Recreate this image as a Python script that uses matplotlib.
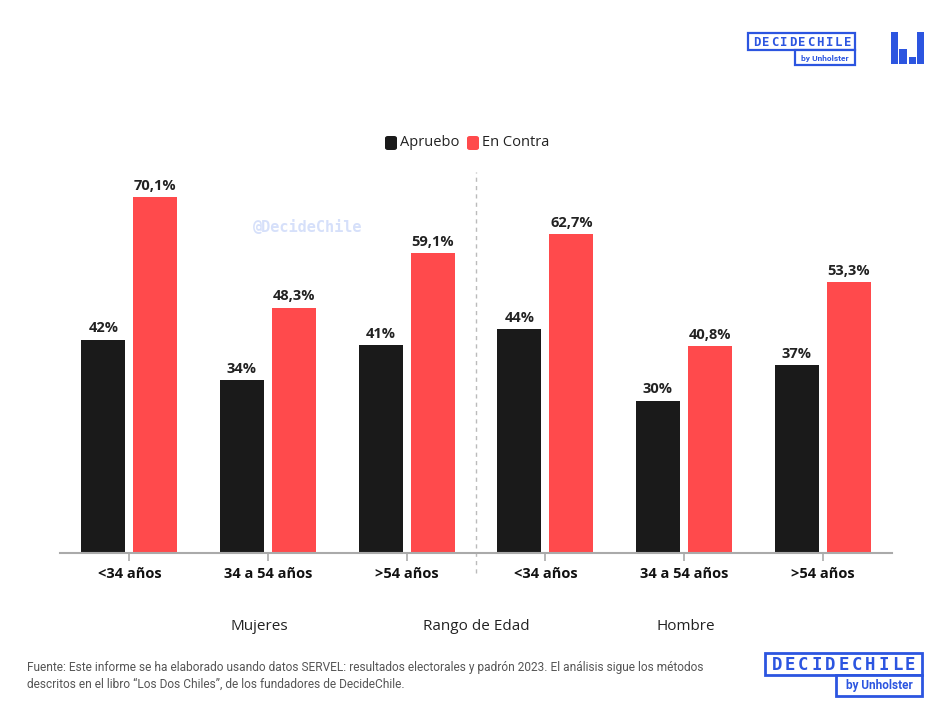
import matplotlib
matplotlib.use("Agg")
from matplotlib import pyplot as plt
from matplotlib.patches import Rectangle, FancyBboxPatch
import numpy as np

plt.rcParams['font.family'] = ['Open Sans', 'DejaVu Sans']

categories = ["<34 años", "34 a 54 años", ">54 años", "<34 años", "34 a 54 años", ">54 años"]
apruebo = [42, 34, 41, 44, 30, 37]
en_contra = [70.1, 48.3, 59.1, 62.7, 40.8, 53.3]
groups = ["Mujeres", "Rango de Edad", "Hombre"]
series = ["Apruebo", "En Contra"]

BLACK = "#1a1a1a"
RED = "#ff4a4c"
BLUE = "#2c55e0"
W, H = 945, 713


def fx(px):
    return px / W


def fy(py):
    return 1 - py / H


def fmt(v):
    if float(v).is_integer():
        return f"{int(v)}%"
    return f"{v:.1f}".replace(".", ",") + "%"


def rect(x0, y0, x1, y1, **kw):
    fig.patches.append(Rectangle((fx(x0), fy(y1)), fx(x1) - fx(x0), fy(y0) - fy(y1),
                                 transform=fig.transFigure, **kw))


fig = plt.figure(figsize=(9.45, 7.13), dpi=100)
ax = fig.add_axes([fx(60), fy(553), fx(892) - fx(60), fy(172) - fy(553)])

x = np.arange(len(categories))
bw = 0.317
off = 0.1876
b1 = ax.bar(x - off, apruebo, bw, color=BLACK)
b2 = ax.bar(x + off, en_contra, bw, color=RED)

for bars, vals in ((b1, apruebo), (b2, en_contra)):
    for r, v in zip(bars, vals):
        ax.annotate(fmt(v), (r.get_x() + r.get_width() / 2, v), xytext=(0, 3),
                    textcoords="offset points", ha="center", va="bottom",
                    fontsize=10.5, fontweight="bold", color="#222222")

ax.set_xlim(-0.5, 5.5)
ax.set_ylim(0, 75)
ax.set_xticks(x)
ax.set_xticklabels(categories, fontsize=10.5, fontweight="bold", color="#111111")
ax.tick_params(axis="x", length=6, width=1.2, color="#aaaaaa", pad=4)
ax.set_yticks([])
for s in ("top", "right", "left"):
    ax.spines[s].set_visible(False)
ax.spines["bottom"].set_color("#aaaaaa")
ax.spines["bottom"].set_linewidth(1.5)
ax.plot([2.5, 2.5], [-4, 75], color="#bbbbbb", linestyle=(0, (3, 3)),
        linewidth=1.0, clip_on=False)

# group labels
for gx, g in zip([259, 476, 686], groups):
    fig.text(fx(gx), fy(627), g, ha="center", va="center", fontsize=11, color="#222222")

# legend
lx = [385, 467]
for px, name, col in zip(lx, series, [BLACK, RED]):
    fig.patches.append(FancyBboxPatch((fx(px), fy(150)), fx(12), fy(136) - fy(150),
                                      boxstyle="round,pad=0,rounding_size=0.003",
                                      transform=fig.transFigure, facecolor=col, edgecolor="none"))
    fig.text(fx(px + 15), fy(143), name, ha="left", va="center", fontsize=10.5, color="#222222")

# watermark
fig.text(fx(308), fy(227), "@DecideChile", ha="center", va="center", fontsize=11,
         family="DejaVu Sans Mono", fontweight="bold", color="#d6e0fa")

# footer
fig.text(fx(27), fy(667), "Fuente: Este informe se ha elaborado usando datos SERVEL: resultados electorales y padrón 2023. El análisis sigue los métodos",
         fontsize=8.6, color="#555555", va="center", family="Roboto")
fig.text(fx(27), fy(684), "descritos en el libro “Los Dos Chiles”, de los fundadores de DecideChile.",
         fontsize=8.6, color="#555555", va="center", family="Roboto")


def logo(x0, y0, x1, ybar, xbar, y1, tx0, tx1, size1, size2, lw):
    rect(x0, y0, x1, ybar, facecolor="white", edgecolor=BLUE, linewidth=lw)
    rect(xbar, ybar, x1, y1, facecolor="white", edgecolor=BLUE, linewidth=lw)
    word = "DECIDECHILE"
    step = (tx1 - tx0) / len(word)
    for i, ch in enumerate(word):
        fig.text(fx(tx0 + step * (i + 0.5)), fy((y0 + ybar) / 2 + 0.5), ch, ha="center", va="center",
                 fontsize=size1, fontweight="bold", color=BLUE, family="DejaVu Sans Mono")
    fig.text(fx((xbar + x1) / 2), fy((ybar + y1) / 2 + 0.5), "by Unholster", ha="center",
             va="center", fontsize=size2, fontweight="bold", color=BLUE, family="Roboto")


logo(748, 33, 855, 50, 795, 65, 752, 852, 8.8, 6.0, 1.6)
logo(765, 653, 922, 675, 836, 696, 770, 917, 12.5, 8.5, 2.0)

# icon
rect(891, 32, 898, 64, facecolor=BLUE, edgecolor="none")
rect(899, 49, 907, 64, facecolor=BLUE, edgecolor="none")
rect(909, 57, 916, 64, facecolor=BLUE, edgecolor="none")
rect(917, 32, 924, 64, facecolor=BLUE, edgecolor="none")

fig.savefig("out.png", dpi=100, facecolor="white")
